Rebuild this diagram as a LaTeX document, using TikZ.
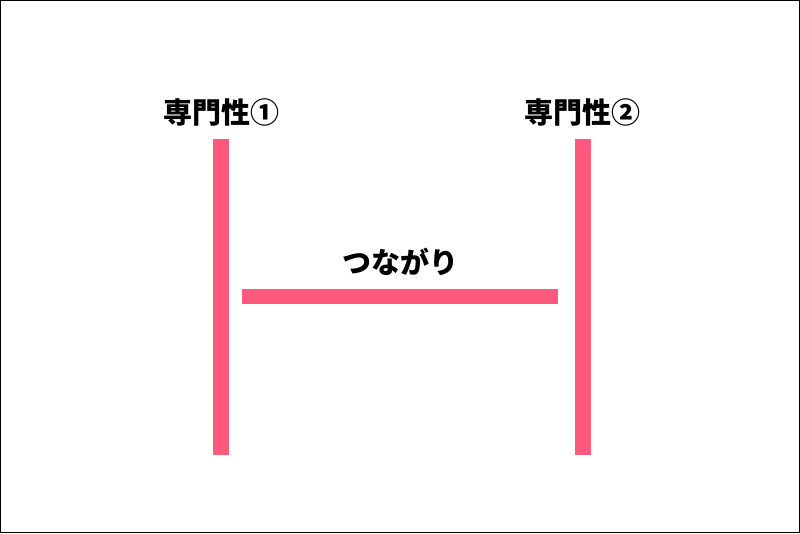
\documentclass[tikz,border=0pt]{standalone}
\usepackage{fontspec}
\newfontfamily\jpfont{Noto Sans CJK JP}
\definecolor{barpink}{HTML}{FF5A7E}
\begin{document}
\begin{tikzpicture}[x=1pt, y=-1pt, label distance=13pt]
            \tikzstyle{bar}=[fill=barpink, draw=none, inner sep=0pt, outer sep=0pt]
            \tikzstyle{tag}=[font=\jpfont\bfseries\fontsize{29}{33}\selectfont, inner sep=0pt]
            \draw[black, line width=1pt] (0.5,0.5) rectangle (799.5,532.5);
            \useasboundingbox (0,0) rectangle (800,533);
            \node[bar, minimum width=16pt, minimum height=316pt,
            label={[tag]above:{専門性①}}] (left) at (221,297) {};
            \node[bar, minimum width=16pt, minimum height=316pt,
            label={[tag]above:{専門性②}}] (right) at (582.5,297) {};
            \node[bar, minimum width=316pt, minimum height=15pt,
            label={[tag]above:{つながり}}] (link) at (400,296.5) {};
        \end{tikzpicture}
\end{document}
